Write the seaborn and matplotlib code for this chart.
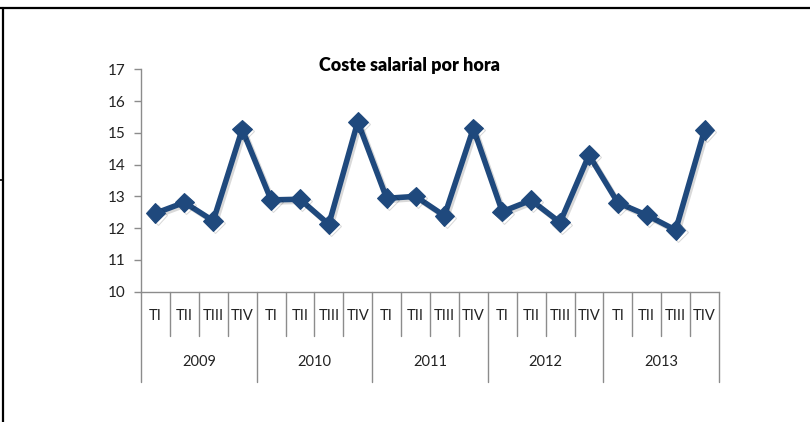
import matplotlib
matplotlib.use("Agg")
import matplotlib.pyplot as plt
import matplotlib.patheffects as pe
from matplotlib.lines import Line2D
import seaborn as sns
import pandas as pd
import numpy as np

years = ["2009", "2010", "2011", "2012", "2013"]
quarters = ["TI", "TII", "TIII", "TIV"]
values = [12.47, 12.81, 12.23, 15.11,
          12.89, 12.91, 12.12, 15.35,
          12.94, 13.00, 12.39, 15.14,
          12.52, 12.88, 12.18, 14.30,
          12.80, 12.41, 11.94, 15.09]
title = "Coste salarial por hora"

sns.set_style("white")
plt.rcParams["font.family"] = ["Lato", "DejaVu Sans"]

df = pd.DataFrame({
    "idx": np.arange(len(values)),
    "valor": values,
    "trimestre": [q for _ in years for q in quarters],
    "anio": [y for y in years for _ in quarters],
})

W, H = 810, 422
fig = plt.figure(figsize=(W / 100, H / 100), dpi=100)
ax = fig.add_axes([141 / W, 1 - 291.7 / H, (719 - 141) / W, (291.7 - 69.3) / H])

color = "#1F497D"
sns.lineplot(data=df, x="idx", y="valor", ax=ax, color=color, linewidth=4.0,
             marker="D", markersize=10, markeredgecolor=color, markerfacecolor=color,
             path_effects=[pe.SimpleLineShadow(offset=(1.5, -1.5), alpha=0.15), pe.Normal()])

n = len(values)
ax.set_xlim(-0.5, n - 0.5)
ax.set_ylim(10, 17)
ax.set_yticks(range(10, 18))
ax.set_xticks([])
ax.set_xlabel("")
ax.set_ylabel("")
grey = "#8c8c8c"
for s in ["top", "right"]:
    ax.spines[s].set_visible(False)
for s in ["left", "bottom"]:
    ax.spines[s].set_color(grey)
    ax.spines[s].set_linewidth(1.0)
ax.tick_params(axis="y", direction="out", length=5, color=grey, width=1.0,
               labelsize=11, labelcolor="#222222", pad=6, left=True)

trans = ax.get_xaxis_transform()
axh = 291.7 - 69.3
q_end = -(336 - 291.7) / axh
y_end = -(381.7 - 291.7) / axh
q_lab = -(316.5 - 291.7) / axh
y_lab = -(362.5 - 291.7) / axh
for b in range(n + 1):
    bottom = y_end if b % len(quarters) == 0 else q_end
    ax.plot([b - 0.5, b - 0.5], [0, bottom], transform=trans, color=grey,
            lw=1.0, clip_on=False)
for i in range(n):
    ax.text(i, q_lab, df["trimestre"][i], transform=trans, ha="center", va="center",
            fontsize=10.5, color="#222222")
for k, yv in enumerate(years):
    ax.text(k * len(quarters) + 1.5, y_lab, yv, transform=trans, ha="center",
            va="center", fontsize=10.5, color="#222222")

fig.text(409 / W, 1 - 66 / H, title, ha="center", va="center", fontsize=13,
         fontweight="heavy", color="black")

# frame lines
fig.add_artist(Line2D([0, 1], [1 - 7.5 / H, 1 - 7.5 / H], transform=fig.transFigure,
                      color="black", lw=1.6))
fig.add_artist(Line2D([3.5 / W, 3.5 / W], [0, 1 - 7.5 / H], transform=fig.transFigure,
                      color="black", lw=1.6))
fig.add_artist(Line2D([0, 3.5 / W], [1 - 180 / H, 1 - 180 / H], transform=fig.transFigure,
                      color="black", lw=1.2))

fig.savefig("out.png", dpi=100)
